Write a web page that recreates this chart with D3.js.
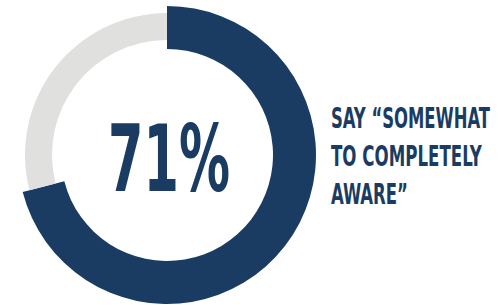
<!DOCTYPE html>
<html lang="en">
<head>
<meta charset="UTF-8">
<script src="https://cdn.jsdelivr.net/npm/d3@7"></script>
<title>71% aware</title>
<style>
  html, body { margin: 0; padding: 0; background: #fff; }
  svg { display: block; }
</style>
</head>
<body>
<div id="chart"></div>
<script>
// data
var categories = ["Somewhat to completely aware", "Other"];
var values = [71, 29];
var bigLabel = "71%";
var captionLines = ["SAY \u201cSOMEWHAT", "TO COMPLETELY", "AWARE\u201d"];
var captionWidths = [159, 151, 77]; // measured widths of each caption line

var W = 499, H = 305;
var cx = 167, cy = 155;
var navy = "#1b3c62", grey = "#e0e0df";
var font = "'DejaVu Sans Condensed', 'Liberation Sans Narrow', sans-serif";

const svg = d3.select("#chart").append("svg")
  .attr("width", W)
  .attr("height", H);

const pie = d3.pie().sort(null).value(d => d);
const slices = pie(values);

// the highlighted slice is drawn a bit wider than the rest
const arcMain = d3.arc().innerRadius(106).outerRadius(149);
const arcRest = d3.arc().innerRadius(115).outerRadius(142);

const g = svg.append("g").attr("transform", `translate(${cx},${cy})`);

g.selectAll("path")
  .data(slices)
  .enter()
  .append("path")
  .attr("d", (d, i) => i == 0 ? arcMain(d) : arcRest(d))
  .attr("fill", (d, i) => i == 0 ? navy : grey);

// squeeze a text horizontally so it spans the given width
function fitText(sel, x, y, width) {
  var len = sel.node().getComputedTextLength();
  sel.attr("transform", `translate(${x},${y}) scale(${width / len},1)`);
}

// centre number
var big = svg.append("text")
  .style("font-family", font)
  .style("font-weight", "bold")
  .style("font-size", "93px")
  .style("fill", navy)
  .text(bigLabel);
fitText(big, 108, 191, 122);

// caption on the right
captionLines.forEach((line, i) => {
  var t = svg.append("text")
    .style("font-family", font)
    .style("font-weight", "bold")
    .style("font-size", "29px")
    .style("fill", navy)
    .text(line);
  fitText(t, 331, 128 + i * 38, captionWidths[i]);
});
</script>
</body>
</html>
